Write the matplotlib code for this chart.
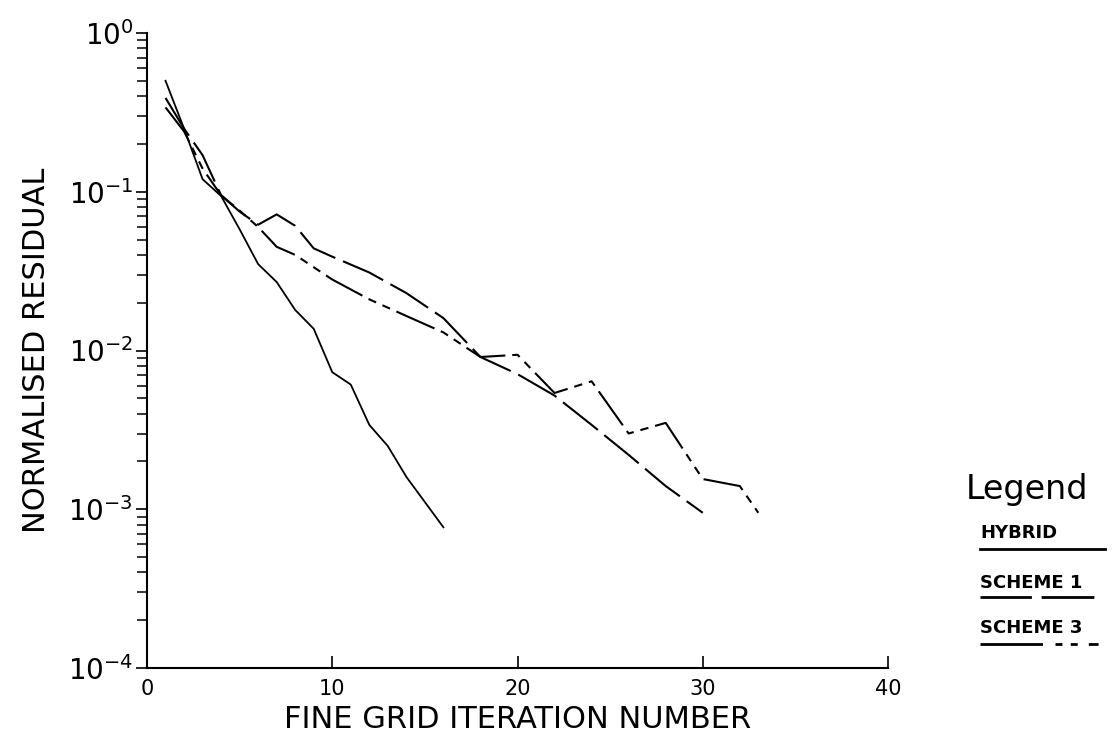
import numpy as np
import matplotlib
matplotlib.use('Agg')
import matplotlib.pyplot as plt
from matplotlib.lines import Line2D
from matplotlib.ticker import LogLocator, NullFormatter, NullLocator

plt.rcParams['font.family'] = ['DejaVu Sans']
plt.rcParams['lines.scale_dashes'] = False

# residual histories
hybrid_x = [1, 2, 3, 4, 5, 6, 7, 8, 9, 10, 11, 12, 13, 14, 16]
hybrid_y = [0.50, 0.25, 0.12, 0.094, 0.058, 0.035, 0.027, 0.018, 0.0137,
            0.0073, 0.0061, 0.0034, 0.0025, 0.0016, 0.00077]

scheme1_x = [1, 2, 3, 4, 5, 6, 7, 8, 9, 10, 12, 14, 16, 18, 20, 22, 24, 26, 28, 30]
scheme1_y = [0.39, 0.25, 0.17, 0.095, 0.075, 0.062, 0.072, 0.061, 0.044, 0.039,
             0.031, 0.023, 0.016, 0.0091, 0.0071, 0.0052, 0.0034, 0.0022, 0.0014, 0.00095]

scheme3_x = [1, 2, 3, 4, 5, 6, 7, 8, 10, 12, 14, 16, 18, 20, 22, 24, 26, 28, 30, 32, 33]
scheme3_y = [0.34, 0.24, 0.14, 0.095, 0.076, 0.060, 0.045, 0.040, 0.028, 0.021,
             0.0165, 0.013, 0.0091, 0.0094, 0.0054, 0.0064, 0.0030, 0.0035,
             0.00155, 0.0014, 0.00095]

x_ticks = [0, 10, 20, 30, 40]

fig = plt.figure(figsize=(11.13, 7.56), dpi=100)
ax = fig.add_axes([147 / 1113, 1 - 668 / 756, (888 - 147) / 1113, (668 - 33) / 756])

s1_dash = (0, (32, 6))
s3_dash = (0, (30, 5, 6, 5, 6, 5))

ax.plot(hybrid_x, hybrid_y, color='black', lw=1.3)
ax.plot(scheme1_x, scheme1_y, color='black', lw=1.5, linestyle=s1_dash)
ax.plot(scheme3_x, scheme3_y, color='black', lw=1.5, linestyle=s3_dash)

ax.set_yscale('log')
ax.set_ylim(1e-4, 1e0)
ax.set_xlim(0, 40)
ax.set_xticks(x_ticks)
ax.xaxis.set_minor_locator(NullLocator())
ax.yaxis.set_major_locator(LogLocator(base=10, numticks=10))
ax.yaxis.set_minor_locator(LogLocator(base=10, subs=np.arange(2, 10), numticks=10))
ax.yaxis.set_minor_formatter(NullFormatter())

for side in ['top', 'right']:
    ax.spines[side].set_visible(False)
for side in ['left', 'bottom']:
    ax.spines[side].set_linewidth(1.5)

ax.tick_params(axis='x', direction='in', length=9, width=1.2, labelsize=15, pad=8)
ax.tick_params(axis='y', which='major', direction='out', length=8, width=1.2, labelsize=20, pad=2)
ax.tick_params(axis='y', which='minor', direction='out', length=7, width=1.1)

ax.set_xlabel('FINE GRID ITERATION NUMBER', fontsize=22, labelpad=4)
ax.set_ylabel('NORMALISED RESIDUAL', fontsize=22, labelpad=12)

# legend block on the right
fig.text(966 / 1113, 1 - 489 / 756, 'Legend', fontsize=24, va='center', ha='left')
items = [('HYBRID', 533, 549, '-'),
         ('SCHEME 1', 583, 597, (0, (37, 7, 38, 20))),
         ('SCHEME 3', 628, 644, (0, (45, 9, 5, 6, 5, 8, 7, 30)))]
for name, ty, ly, style in items:
    fig.text(980 / 1113, 1 - ty / 756, name, fontsize=13, fontweight='bold',
             va='center', ha='left')
    fig.add_artist(Line2D([980 / 1113, 1105 / 1113], [1 - ly / 756, 1 - ly / 756],
                          transform=fig.transFigure, color='black', lw=2, linestyle=style))

fig.savefig('out.png', dpi=100)
